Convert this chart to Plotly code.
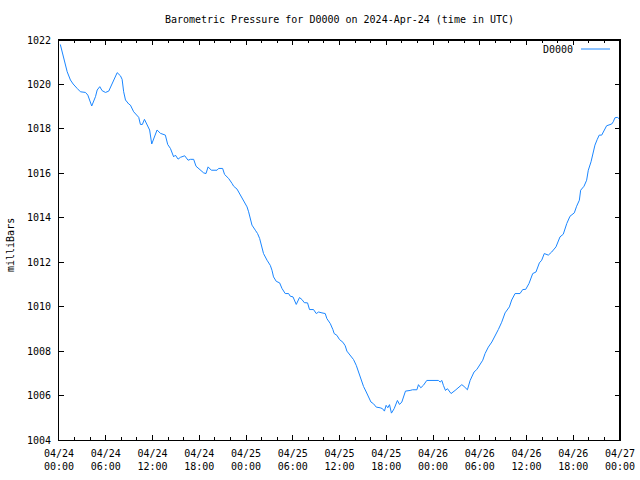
import plotly.graph_objects as go

# ---- data ----
day1_times = ["00:10","00:37","00:50","01:03","01:28","01:49","02:20","02:45","03:24","03:42",
              "04:12","04:41","04:54","05:14","05:32","05:58","06:23","06:49","07:15","07:28",
              "07:53","08:06","08:18","08:32","08:57","09:10","09:35","10:02","10:14","10:27",
              "10:42","10:58","11:18","11:38","11:54","12:15","12:35","13:01","13:39","13:57",
              "14:18","14:43","14:56","15:17","15:35","16:08","16:34","16:52","17:17","17:35",
              "18:03","18:34","18:52","19:08","19:33","20:17","20:29","21:00","21:15","21:46",
              "22:12","22:25","22:51","23:16","23:42"]
day1_vals = [1021.8,1021.1,1020.8,1020.57,1020.2,1020.02,1019.82,1019.67,1019.64,1019.52,
             1019.03,1019.45,1019.75,1019.9,1019.72,1019.64,1019.7,1020.05,1020.35,1020.53,
             1020.39,1020.23,1019.67,1019.3,1019.12,1019.07,1018.77,1018.62,1018.52,1018.2,
             1018.2,1018.43,1018.17,1017.95,1017.32,1017.65,1017.95,1017.8,1017.72,1017.3,
             1017.12,1016.74,1016.82,1016.64,1016.72,1016.79,1016.59,1016.63,1016.63,1016.32,
             1016.17,1016.02,1015.99,1016.29,1016.14,1016.14,1016.22,1016.22,1015.95,1015.77,
             1015.55,1015.42,1015.29,1015.02,1014.79]

day2_times = ["00:08","00:20","00:33","00:46","01:12","01:29","01:45","02:03","02:15","02:42",
              "03:07","03:20","03:32","03:53","04:19","04:37","05:02","05:28","05:41","06:02",
              "06:27","06:52","07:11","07:29","07:54","08:09","08:40","09:01","09:19","09:45",
              "10:10","10:23","10:49","11:09","11:19","11:40","12:00","12:26","12:44","12:57",
              "13:23","13:48","14:09","14:26","14:45","15:05","15:26","15:43","16:02","16:22",
              "16:43","17:13","17:31","17:46","17:59","18:12","18:25","18:40","19:01","19:26",
              "19:42","20:00","20:13","20:28","21:04","21:22","21:56","22:08","22:26","22:46",
              "23:12"]
day2_vals = [1014.49,1014.27,1013.97,1013.67,1013.44,1013.29,1013.07,1012.62,1012.39,1012.09,
             1011.86,1011.64,1011.34,1011.14,1011.07,1010.82,1010.59,1010.59,1010.47,1010.44,
             1010.1,1010.41,1010.32,1010.18,1010.17,1009.87,1009.87,1009.69,1009.76,1009.72,
             1009.69,1009.46,1009.24,1008.97,1008.79,1008.71,1008.52,1008.4,1008.24,1008.0,
             1007.81,1007.62,1007.36,1007.06,1006.68,1006.41,1006.16,1005.93,1005.71,1005.63,
             1005.48,1005.45,1005.41,1005.3,1005.56,1005.45,1005.59,1005.21,1005.41,1005.78,
             1005.6,1005.71,1005.93,1006.2,1006.23,1006.26,1006.26,1006.49,1006.35,1006.46,
             1006.68]

day3_times = ["00:03","00:42","00:55","01:08","01:20","01:36","01:51","02:19","02:50","03:16",
              "03:42","03:59","04:25","04:46","04:59","05:16","05:37","06:03","06:23","06:41",
              "07:06","07:33","07:58","08:23","08:49","09:15","09:48","10:06","10:32","11:10",
              "11:31","11:54","12:19","12:48","13:13","13:39","13:57","14:17","14:48","15:14",
              "15:47","16:18","16:43","17:10","17:35","18:08","18:26","18:47","18:57","19:23",
              "19:43","19:56","20:17","20:30","20:47","21:05","21:20","21:39","21:57","22:17",
              "22:56","23:08","23:21","23:39"]
day3_vals = [1006.68,1006.68,1006.61,1006.68,1006.46,1006.23,1006.31,1006.09,1006.23,1006.35,
             1006.49,1006.41,1006.26,1006.68,1006.86,1007.06,1007.17,1007.44,1007.59,1007.89,
             1008.18,1008.41,1008.67,1008.97,1009.3,1009.72,1009.99,1010.3,1010.59,1010.59,
             1010.77,1010.78,1011.04,1011.49,1011.56,1011.97,1012.09,1012.39,1012.32,1012.46,
             1012.69,1013.14,1013.26,1013.74,1014.07,1014.22,1014.52,1014.79,1015.24,1015.42,
             1015.69,1016.14,1016.52,1016.82,1017.27,1017.53,1017.72,1017.72,1017.95,1018.14,
             1018.22,1018.32,1018.5,1018.52]

day4_times = ["00:00"]
day4_vals = [1018.43]

tick_vals = ["2024-04-24 00:00","2024-04-24 06:00","2024-04-24 12:00","2024-04-24 18:00",
             "2024-04-25 00:00","2024-04-25 06:00","2024-04-25 12:00","2024-04-25 18:00",
             "2024-04-26 00:00","2024-04-26 06:00","2024-04-26 12:00","2024-04-26 18:00",
             "2024-04-27 00:00"]
tick_text = ["04/24<br>00:00","04/24<br>06:00","04/24<br>12:00","04/24<br>18:00",
             "04/25<br>00:00","04/25<br>06:00","04/25<br>12:00","04/25<br>18:00",
             "04/26<br>00:00","04/26<br>06:00","04/26<br>12:00","04/26<br>18:00",
             "04/27<br>00:00"]
y_ticks = [1004, 1006, 1008, 1010, 1012, 1014, 1016, 1018, 1020, 1022]

series_name = "D0000"
title_text = "Barometric Pressure for D0000 on 2024-Apr-24 (time in UTC)"
ylabel = "milliBars"

# ---- build ----
times = ([f"2024-04-24 {t}" for t in day1_times] + [f"2024-04-25 {t}" for t in day2_times]
         + [f"2024-04-26 {t}" for t in day3_times] + [f"2024-04-27 {t}" for t in day4_times])
vals = day1_vals + day2_vals + day3_vals + day4_vals

LINE = "#1a86ff"
FONT = dict(family="DejaVu Sans Mono", size=10, color="black")

fig = go.Figure()
fig.add_trace(go.Scatter(x=times, y=vals, mode="lines", name=series_name,
                         line=dict(color=LINE, width=1), showlegend=False))

fig.update_layout(
    width=640, height=480,
    margin=dict(l=59, r=20, t=40, b=40, autoexpand=False),
    paper_bgcolor="white", plot_bgcolor="white",
    font=FONT,
    title=dict(text=title_text, x=(59 + 561/2)/640, xanchor="center", y=1 - 19/480,
               yref="container", yanchor="middle", font=FONT, automargin=False),
)
minor_x = dict(dtick=2*3600*1000, tick0=tick_vals[0], ticks="inside", ticklen=3,
               tickcolor="black", tickwidth=1, showgrid=False)
common = dict(ticks="inside", ticklen=5, tickcolor="black", tickwidth=1,
              showline=True, linecolor="black", linewidth=1, mirror="allticks",
              showgrid=False, zeroline=False, tickfont=FONT, automargin=False)
fig.update_layout(
    xaxis=dict(type="date", range=[tick_vals[0], tick_vals[-1]],
               tickmode="array", tickvals=tick_vals, ticktext=tick_text,
               minor=minor_x, ticklabelstandoff=4, **common),
    yaxis=dict(range=[y_ticks[0], y_ticks[-1]], tickmode="array", tickvals=y_ticks,
               ticklabelstandoff=5, **common),
)
# top and right border lines (pixel-aligned, gnuplot frame)
fig.add_shape(type="line", xref="paper", yref="paper", x0=0, x1=1,
              ysizemode="pixel", yanchor=1, y0=-0.5, y1=-0.5,
              line=dict(color="black", width=1), layer="above")
fig.add_shape(type="line", xref="paper", yref="paper", y0=0, y1=1,
              xsizemode="pixel", xanchor=1, x0=-0.5, x1=-0.5,
              line=dict(color="black", width=1), layer="above")
# y-axis label
fig.add_annotation(text=ylabel, xref="paper", yref="paper", x=0, y=0.5,
                   xshift=-49, yshift=-5, textangle=-90, showarrow=False, font=FONT,
                   xanchor="center", yanchor="middle")
# legend key (gnuplot style: text left of sample)
fig.add_annotation(text=series_name, xref="paper", yref="paper", x=1, y=1,
                   xshift=-45, yshift=-9, xanchor="right", yanchor="middle",
                   showarrow=False, font=FONT)
fig.add_shape(type="line", xref="paper", yref="paper",
              xsizemode="pixel", ysizemode="pixel", xanchor=1, yanchor=1,
              x0=-39, x1=-10, y0=-9, y1=-9,
              line=dict(color=LINE, width=1))

fig.write_html("out.html")
